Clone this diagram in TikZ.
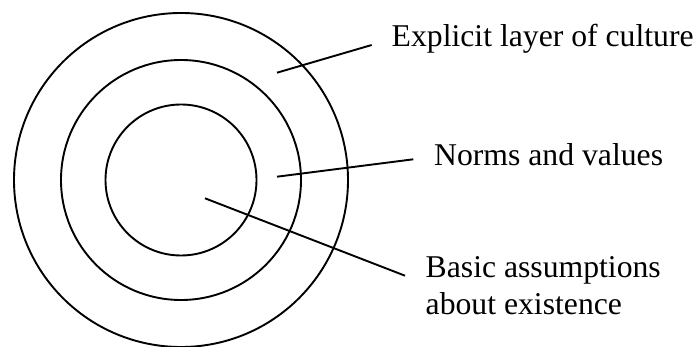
\documentclass[tikz,border=0pt]{standalone}
\usepackage{fontspec}
\setmainfont{Liberation Serif}
\begin{document}
\begin{tikzpicture}[x=1pt,y=-1pt,
  ring/.style={draw=black,line width=1.9pt},
  leader/.style={draw=black,line width=1.9pt},
  lbl/.style={inner sep=0pt,anchor=base west,align=left,font=\fontsize{31.7}{37}\selectfont}]
\useasboundingbox (0,0) rectangle (699,347);
\coordinate (c) at (181,180);
\draw[ring] (c) circle[radius=167];
\draw[ring] (c) circle[radius=120];
\draw[ring] (c) circle[radius=75.5];
\node[lbl] (l1) at (391.5,46.5) {Explicit layer of culture};
\node[lbl] (l2) at (434,165.5) {Norms and values};
\node[lbl] (l3) at (425.5,315) {Basic assumptions\\about existence};
\coordinate (a1) at (277,72.7);
\coordinate (b1) at (371.7,45);
\coordinate (a2) at (277,176.7);
\coordinate (b2) at (413.3,159.3);
\coordinate (a3) at (205,198.3);
\coordinate (b3) at (405,275.7);
\draw[leader] (a1) -- (b1);
\draw[leader] (a2) -- (b2);
\draw[leader] (a3) -- (b3);
\end{tikzpicture}
\end{document}
